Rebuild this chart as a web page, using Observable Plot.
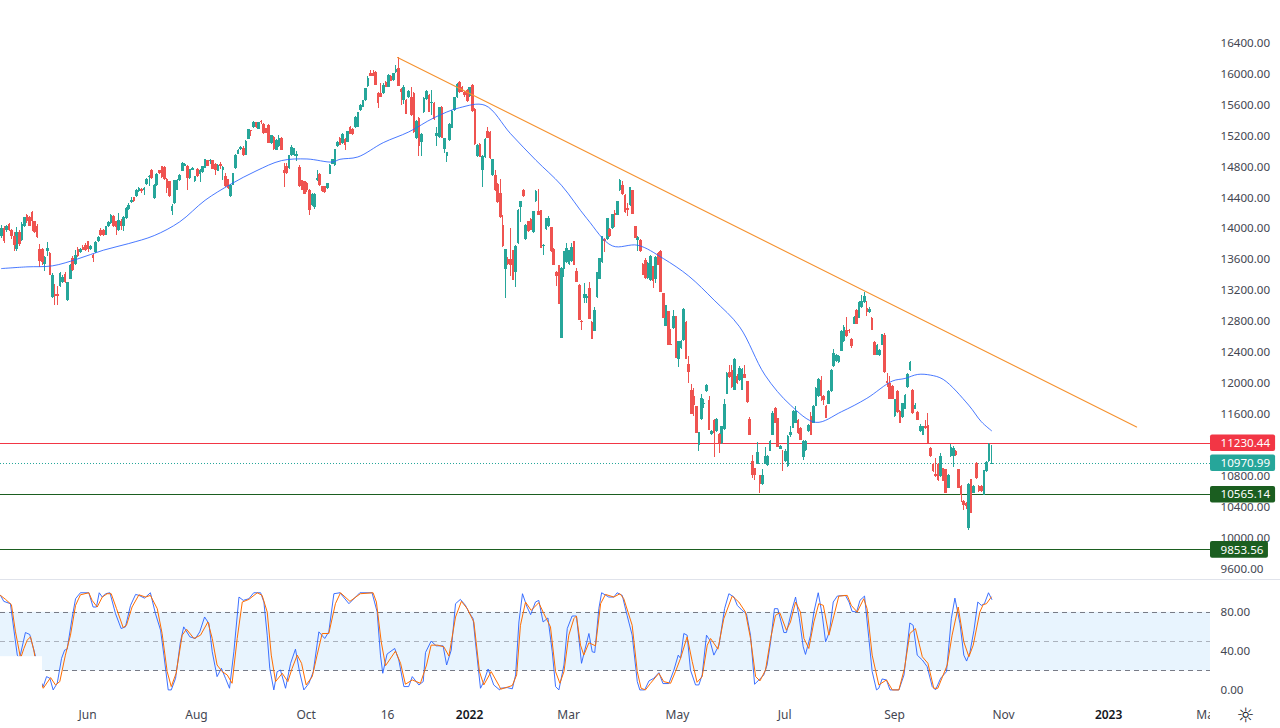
<!DOCTYPE html>
<html>
<head>
<meta charset="utf-8">
<script src="https://cdn.jsdelivr.net/npm/d3@7"></script>
<script src="https://cdn.jsdelivr.net/npm/@observablehq/plot@0.6"></script>
<style>
html,body{margin:0;padding:0;background:#fff;overflow:hidden}
svg{display:block}
</style>
</head>
<body>
<div id="chart"></div>
<script>
// ---- daily candles, one entry per trading bar ----
const opens = [13895,14003,13972,14054,13981,13895,13732,13955,13852,14033,14166,14140,14205,14088,14033,13736,13732,13542,13702,13680,
13108,13155,13155,13250,13302,13413,13070,13350,13615,13542,13736,13690,13757,13788,13830,13732,13658,13690,13830,13980,
13980,13917,14024,14067,14162,14088,13981,14097,14033,14132,14248,14338,14402,14411,14476,14510,14488,14574,14665,14755,
14390,14562,14746,14798,14789,14639,14604,14222,14325,14497,14626,14742,14806,14806,14648,14755,14604,14764,14703,14725,
14781,14875,14863,14875,14832,14742,14824,14755,14678,14635,14411,14562,14772,14961,15022,15035,14948,15159,15265,15305,
15366,15288,15382,15348,15290,15335,15099,15176,15013,15056,15163,14755,14798,14776,14945,14945,14936,14789,14617,14604,
14583,14497,14304,14270,14617,14699,14540,14540,14518,14703,14832,14820,15056,15163,15099,15155,15120,15305,15280,15305,
15314,15529,15572,15650,15839,16002,16002,16015,15753,15744,15744,15895,15830,15968,15916,16015,16066,15796,15658,15658,
15692,15701,15744,15164,15421,15108,15495,15667,15722,15620,15615,15194,15176,15572,15022,14927,15142,15301,15529,15692,
15895,15830,15765,15787,15710,15852,15542,14927,15090,14746,14918,15258,15245,14690,14690,14574,14454,14045,13474,13607,
13607,13715,13431,13809,14269,14497,13860,14088,14123,13951,14355,14226,14231,13766,13990,14024,14011,13732,13431,13521,
12584,13474,13560,13542,13572,13835,13452,13271,12807,13100,13100,13230,12790,12678,13112,13349,13560,13865,13860,13990,
14003,14196,14175,14488,14562,14432,14265,14295,14488,14024,13852,13852,13542,13585,13357,13336,13508,13345,13680,13700,
13164,12743,12927,12500,12712,12863,12317,12454,12562,12790,12252,11917,11840,11702,11199,11539,11730,11895,11788,11345,
11530,11380,11349,11229,11410,11865,12140,12175,11917,12098,12037,11917,12123,12024,11539,10992,10898,10962,10812,10692,
10958,10941,11130,11336,11680,11547,11156,11050,10992,10928,11324,11423,11487,11530,11423,11044,11143,11380,11573,11487,
11711,11831,12046,11840,11711,11736,11895,12218,12283,12278,12420,12540,12691,12691,12571,12768,12949,12842,12983,13048,
12971,12919,12842,12532,12368,12360,12497,12626,12022,12003,11960,11573,11904,11646,11560,11668,11947,12166,11917,11672,
11629,11388,11336,11444,11465,11164,10958,10829,10958,10799,10898,10885,10649,11057,11057,11130,10885,10670,10477,10455,
10133,10756,10584,10971,10670,10670,10562,10864,10992,10962];
const highs = [14045,14030,14045,14065,13990,13950,14010,13975,14075,14150,14190,14155,14220,14095,14050,13800,13750,13640,13826,13690,
13420,13285,13250,13440,13400,13430,13310,13540,13640,13715,13760,13750,13780,13810,13840,13780,13665,13835,13900,14000,
13990,14035,14090,14180,14175,14100,14196,14115,14155,14270,14320,14402,14410,14505,14535,14525,14535,14650,14690,14765,
14570,14710,14755,14800,14800,14650,14610,14316,14625,14640,14705,14850,14840,14815,14770,14785,14680,14780,14765,14800,
14895,14885,14900,14885,14840,14825,14850,14800,14712,14640,14570,14715,14960,15020,15060,15060,15140,15285,15272,15380,
15375,15375,15400,15355,15300,15345,15200,15185,15150,15206,15175,14841,14841,14950,15073,15035,15000,14820,14625,14615,
14595,14505,14450,14450,14755,14710,14550,14550,14590,14825,14900,15025,15130,15180,15230,15165,15255,15315,15290,15450,
15505,15600,15660,15815,15960,16045,16045,16030,15765,15873,15870,15905,15990,15980,16010,16110,16208,15810,15850,15670,
15790,15830,15760,15395,15435,15230,15690,15785,15730,15787,15625,15305,15570,15580,15170,14990,15355,15525,15695,15870,
15905,15840,15775,15795,15830,15860,15550,15085,15100,14940,15160,15305,15255,14900,14755,14590,14640,14175,13735,13625,
14003,13725,13780,14245,14355,14505,14060,14100,14135,14220,14490,14510,14240,13800,14135,14162,14020,13745,13445,13530,
13500,13705,13809,13725,13809,13840,13487,13280,12815,13290,13150,13300,12800,12980,13440,13620,13900,13880,14135,14000,
14190,14240,14350,14635,14605,14440,14325,14535,14495,14030,13900,13860,13555,13610,13565,13655,13515,13640,13690,13715,
13170,13015,12935,12704,12950,12870,12550,12560,12970,12800,12347,11995,11938,11710,11370,11861,11790,11994,11831,11400,
11540,11545,11360,11450,11797,12140,12240,12240,12320,12120,12227,12190,12240,12030,11569,11078,10905,11242,10820,10885,
11173,11070,11270,11640,11695,11555,11195,11143,11150,11330,11452,11650,11702,11540,11430,11260,11260,11470,11630,11715,
11945,12068,12089,11850,11720,11910,12180,12440,12380,12360,12680,12745,12854,12700,12580,12865,12960,13060,13134,13181,
13057,12980,12850,12540,12510,12440,12640,12650,12130,12089,11970,11800,11915,11655,11750,11865,12130,12280,11925,11740,
11640,11470,11450,11530,11616,11175,10965,11035,10975,11100,10905,10895,10825,11220,11190,11140,10895,10680,10490,10465,
10710,10765,10680,10980,10690,10680,10880,10990,11230,11200];
const lows = [13875,13815,13950,13970,13860,13702,13700,13770,13840,14015,14070,14025,13960,13945,13880,13495,13530,13444,13637,13390,
13100,13005,13010,13240,13290,13295,13065,13340,13445,13530,13625,13680,13715,13700,13690,13720,13560,13680,13820,13900,
13900,13910,14015,14060,14020,13908,13965,13981,13960,14125,14240,14330,14340,14400,14465,14460,14432,14565,14540,14640,
14380,14550,14700,14650,14620,14454,14405,14175,14310,14490,14615,14735,14800,14497,14640,14750,14595,14660,14592,14715,
14775,14800,14830,14760,14690,14735,14770,14617,14535,14510,14405,14555,14765,14955,15015,14935,14945,15150,15195,15295,
15290,15280,15345,15220,15225,15095,15090,15010,15005,15050,15005,14527,14700,14765,14935,14935,14863,14535,14490,14440,
14465,14175,14290,14250,14605,14550,14465,14450,14510,14695,14825,14810,15045,15070,15090,15013,15110,15215,15210,15295,
15305,15520,15560,15640,15830,15960,15965,15845,15550,15690,15735,15825,15820,15900,15905,16005,15840,15594,15600,15470,
15680,15455,15230,15150,14927,14927,15485,15655,15500,15465,15400,15065,15165,15160,14970,14862,15130,15290,15520,15680,
15750,15760,15700,15630,15700,15505,15080,14915,14915,14527,14905,15160,14900,14680,14480,14330,14135,13760,13100,13530,
13380,13335,13242,13800,14075,14405,13845,13950,13975,13940,14345,14170,13740,13660,13980,14015,13695,13525,13259,13020,
12580,13370,13550,13530,13560,13525,13300,12810,12680,13030,13035,12830,12570,12670,13100,13340,13550,13690,13850,13890,
13990,14020,14165,14480,14430,14200,14153,14285,14180,13870,13700,13695,13395,13350,13345,13325,13230,13290,13525,13172,
12835,12735,12495,12490,12700,12320,12205,12440,12550,12310,12003,11600,11582,11350,11122,11530,11680,11885,11395,11335,
11050,11370,11100,11220,11400,11855,12070,11940,11905,11985,12025,11905,12060,11750,11330,10780,10747,10950,10584,10680,
10950,10930,11120,11325,11480,11175,11145,10863,10980,10915,11310,11415,11480,11340,11265,11010,11130,11370,11330,11480,
11700,11820,11766,11715,11545,11725,11885,12210,12270,12265,12410,12530,12600,12650,12455,12760,12760,12835,12975,13040,
12870,12910,12685,12365,12360,12350,12490,12135,11950,11790,11795,11565,11620,11480,11550,11660,11940,12160,11600,11665,
11520,11370,11325,11410,11225,11050,10850,10790,10740,10790,10730,10585,10640,11050,10920,11060,10640,10468,10365,10370,
10110,10320,10575,10760,10600,10590,10555,10855,10985,10955];
const closes = [14003,13839,14033,13981,13895,13779,13955,13800,14058,14140,14088,14033,14088,13947,13882,13572,13560,13628,13745,13392,
13392,13121,13121,13422,13370,13302,13302,13530,13456,13658,13637,13736,13723,13723,13732,13766,13615,13822,13886,13908,
13908,14024,14076,14175,14024,14015,14110,14024,14144,14260,14304,14368,14347,14497,14518,14476,14523,14639,14672,14648,
14562,14703,14712,14656,14635,14518,14411,14282,14617,14626,14690,14841,14832,14648,14764,14776,14669,14669,14755,14798,
14893,14806,14875,14764,14755,14815,14806,14789,14540,14518,14562,14712,14950,15013,15047,14940,15133,15280,15255,15366,
15305,15366,15375,15228,15228,15099,15198,15022,15142,15163,15013,14712,14712,14948,15047,15035,14961,14540,14497,14445,
14497,14239,14445,14445,14648,14562,14476,14463,14583,14820,14893,15022,15120,15078,15215,15078,15250,15219,15219,15443,
15495,15594,15650,15808,15946,15968,15968,15852,15615,15692,15852,15830,15980,15907,16002,16058,15843,15765,15830,15477,
15774,15465,15237,15380,15065,15219,15680,15778,15507,15634,15409,15228,15563,15164,15164,14979,15344,15516,15692,15864,
15757,15765,15722,15637,15821,15520,15090,15077,14918,14936,15155,15164,14905,14893,14488,14334,14140,13766,13732,13542,
13530,13336,13775,14239,14347,14411,14045,13960,13981,14217,14484,14175,13745,13787,14130,14130,13702,13530,13379,13026,
13487,13702,13745,13723,13753,13530,13306,12820,12785,13145,13130,12833,12575,12949,13435,13615,13895,13830,14130,13895,
14187,14175,14347,14617,14441,14205,14240,14531,14183,13874,13886,13702,13400,13357,13551,13645,13315,13628,13530,13177,
12841,13005,12498,12495,12872,12325,12540,12549,12962,12317,12141,11607,11724,11358,11367,11810,11742,11981,11401,11388,
11358,11539,11229,11444,11736,12132,12080,11951,12317,12003,12196,12184,12068,11754,11336,10812,10820,11109,10700,10812,
11057,11057,11250,11616,11487,11177,11186,11040,11130,11315,11367,11646,11646,11358,11272,11250,11259,11457,11336,11711,
11938,12055,11831,11780,11552,11904,12175,12390,12368,12356,12670,12721,12605,12670,12485,12854,12764,13048,13057,13121,
12919,12962,12691,12368,12497,12433,12635,12140,12005,11801,11801,11797,11625,11487,11745,11852,12119,12270,11616,11723,
11530,11453,11444,11423,11229,11057,10863,10799,10743,11057,10735,10584,10820,11177,11164,11070,10649,10562,10420,10412,
10704,10326,10670,10769,10606,10606,10872,10980,11216,10970.99];

// ---- 50-day moving average, read at these bars ----
const maBars = [0,10,20,30,40,50,60,70,80,90,100,110,120,130,133,140,150,160,170,180,190,200,210,220,230,240,250,260,270,280,290,300,310,320,330,340,350,355,360,365,370,380,385,389];
const maVals = [13486,13508,13521,13611,13723,13809,13912,14089,14368,14574,14746,14880,14901,14862,14897,14927,15112,15250,15434,15563,15594,15228,14884,14562,14132,13779,13787,13616,13390,13078,12734,12110,11723,11500,11637,11810,12033,12067,12119,12110,12055,11723,11508,11392];

// ---- trend line ----
const trendBars = [155.6,446];
const trendVals = [16212,11441];

// ---- horizontal levels ----
const levelVals = [11230.44,10970.99,10565.14,9853.56];
const levelText = ["11230.44","10970.99","10565.14","9853.56"];
const levelColors = ["#f23645","#26a69a","#1b5e20","#1b5e20"];
const levelBoxEnd = [500.6,500.6,500.6,497.8];
const priceTicks = [16400,16000,15600,15200,14800,14400,14000,13600,13200,12800,12400,12000,11600,11200,10800,10400,10000,9600];

// ---- stochastic oscillator ----
const kBars = [-0.4,0.9,3.5,6.2,7.1,9.4,11.1,13.4,14.3,16.4,17.7,19,20.3,21.9,23.6,24.8,25.8,27.8,29.1,31,34.3,36,37.3,38.4,39.6,40.9,42.6,44.8,47,48.7,50.7,52.7,54,56.2,58.5,60.5,62.5,63.8,65.5,66.7,68.4,70.3,71.6,74,76.2,77.9,79.8,81.5,82.8,84.7,86.4,88,89.6,91.3,93.3,95,97.2,99.1,101.8,103.1,104.4,105.4,107,108.3,109.6,111.6,113.6,115.5,117.1,118.8,120.8,122.5,124.7,127,128.6,130.6,133,136.5,140.8,145.6,147.6,148.9,149.8,151.5,154.5,156.1,158.1,160,161.4,164,165.7,166.6,168.8,170.8,173.5,174.9,176.7,178.4,180.3,182.3,183.6,185.3,186.2,188.2,189.5,191.2,193.4,195.7,
196.1,198.7,200.7,202,203.3,204.7,206.5,207.9,209.8,211.1,212.8,214.7,216.4,217.7,219,221,222.3,224.2,225.9,227.9,230.8,232.1,233.1,234.7,235.8,238.6,240.6,241.9,243.9,245.8,247.8,249.8,250.8,252.7,254.4,256.3,258.3,259.9,262.2,264.2,265.9,266.8,268.1,269.4,270.7,272.7,274,275.3,277,278.3,279.9,281.9,284.1,285.8,287.8,289.1,291,292.7,294.3,295.9,297.6,299.5,300.8,302.2,303.7,305,307.4,308.4,310.7,312,313.5,315,315.9,317.9,319.2,320.9,322.5,323.8,325.3,326.8,328.4,331.6,333,334.2,336,337.3,339.1,340.8,342.1,343.8,344.7,346,347.7,349.1,352.6,354.6,356.9,358.2,359.8,361.8,363.7,365.7,367,369,371.3,373.2,374.6,376.6,378.1,379.2,380.5,382.1,383.6,385,386.2,387.8,389.1];
const kVals = [97.3,91.2,88.8,36.2,32.9,59.3,57.3,34.5,15.9,4,14.2,12.5,0.6,7.4,32.9,41.3,42.3,75.2,93.9,100,100,85.4,85.4,100,95.6,99,100,78.6,63.4,65.1,87.1,98.3,97.3,94.5,100,78.6,61.7,36.2,0.6,0.6,12.5,49.8,65.1,54.9,53.2,60,75.2,68.4,39.6,14.2,22.7,12.5,2.3,39.6,95.6,92.2,93.9,100,100,90.5,56.6,22.7,0.6,19.3,21,2.3,27.8,42.3,19.3,0.6,7.4,19.3,60,53.2,60,99,100,88.8,100,100,80.3,36.2,17.6,37.3,43,31.2,4,4,14.2,5.7,9.1,38.9,50.5,45.7,45.7,26.1,41.3,88.8,93.2,87.1,80.3,73.5,49.8,2.3,9.1,22,5.7,0.6,
2.3,3,1.7,15.9,70.1,99,85.4,77.6,90.5,92.2,70.1,74.2,39.6,4,0.6,26.1,63.4,76.2,76.2,27.8,58.3,39.6,38.9,83.7,100,95.6,95.6,100,97.3,76.9,56.6,9.1,0.6,0.6,9.8,12.5,18.3,7.1,7.1,21,36.2,32.9,58.3,56.6,21,5.7,5.7,15.9,56.6,51.5,36.2,46.4,83.7,99,95.6,87.1,82,78.6,56.6,6.4,10.8,15.9,26.1,49.8,83.7,83.7,59.3,59.3,83.7,95.6,73.5,44.7,36.9,56.6,80.3,100,76.9,49.8,60,90.5,96.6,97.3,90.5,81,80.3,92.2,96.6,53.2,19.3,0.6,2.3,11.8,10.8,0.6,0.6,15.9,69.1,66.7,36.2,31.2,24.4,4,0.6,12.5,19.3,73.5,94.5,68.4,36.2,30.1,38.9,61.7,90.5,87.1,88.8,100,93.2];
const dBars = [-0.4,1.6,3.9,5.5,7.5,8.8,10.1,11.4,12.7,14.3,16.4,19.3,21.2,22.9,25.1,27.1,29.1,31,34.3,35.6,37.6,39.6,41.5,43.1,45.2,47.8,49.1,51.3,54,56.6,58.5,61.2,63.1,65.1,66.7,68.6,71,72.7,75.6,78.2,81.1,82.8,84.7,86.7,88.7,90.6,92.6,94.6,97.2,100.5,102.4,104.4,106,107.7,110.3,112.5,114.2,116.2,117.9,119.7,122.1,124,126,128.6,131.2,133.2,136.9,141,146,147.3,149.2,150.9,154.8,156.8,158.7,161.4,164.6,167,168.8,171.4,173.8,175.8,178.4,180.7,183,185.6,187.8,189.5,192.4,195.7,
196.1,198.7,200.7,202.4,203.9,205.9,208.1,211.1,213.1,215.7,217.7,219.4,221,222.9,224.9,225.9,227.5,228.8,230.8,233.4,235.4,237.3,240.6,243,244.5,247.8,249.8,251.3,253,255,258.3,260.2,262.9,264.8,266.8,269.4,271.4,273.3,275.3,277.3,278.6,281.5,283.8,287.1,289.7,292.3,294.3,296.3,298,300.2,302.2,304.1,305.8,308.4,310,312,313.9,315.3,317.2,319.2,321.1,322.9,325.1,327.1,329,332.3,333.9,336.2,338.8,340.1,342.1,344.7,347.7,350,352.6,354.8,356.9,359.1,361.8,364,366.3,367.9,371.6,373.5,375.9,378.1,380.1,381.8,384.4,385.7,387,388.9];
const dVals = [97.3,93.2,87.8,60,32.9,43,51.5,54.9,41.3,15.9,2.3,13.2,5.7,9.1,36.2,56.6,87.1,97.9,100,92.2,85.4,95.6,99,99,83.7,64.4,66.7,85.4,97.9,95.6,97.3,83.7,58.3,19.3,4,17.6,56.6,62.7,53.2,56.6,70.1,53.2,26.1,19.3,15.9,7.4,53.2,90.5,93.2,100,97.3,80.3,36.2,9.1,17.6,9.1,22.7,36.2,27.8,5.7,14.2,36.2,58.3,58.3,88.8,100,91.2,99,100,90.5,49.8,25.4,40.3,27.8,6.4,10.8,7.4,26.1,46.4,46.4,44.7,35.2,75.2,91.2,83.7,70.1,19.3,5.7,19.3,4,
1.3,3.4,5.1,15.9,66.7,90.5,82,89.8,78.6,65.1,19.3,7.4,19.3,56.6,73.5,76.2,46.4,36.2,48.8,45.7,88.8,98.3,95.6,99,93.9,66.7,19.3,2.3,0.6,7.4,17.6,9.1,7.4,19.3,32.9,54.9,29.5,8.4,14.2,46.4,53.2,42.3,73.5,96.6,90.5,80.3,53.2,14.2,9.8,21,53.2,76.9,79.6,61.7,70.1,90.5,80.3,53.2,43,70.1,88.8,87.1,56.6,76.9,96.6,97.3,87.1,80.3,93.9,83.7,36.2,5.7,10.8,0.6,0.6,22.7,58.3,63.4,34.5,27.8,2.3,2.3,26.1,56.6,85.4,49.8,34.5,46.4,80.3,87.8,88.8,95.6];
const oscTicks = [80,40,0];
const oscLevels = [80,50,20];

// ---- time axis ----
const timeLabels = ["Jun","Aug","Oct","16","Mar","May","Jul","Sep","Nov","Mar"];
const timeBars = [33.8,76.6,119.7,151.7,222.8,265.6,307.7,350.9,393.7,473.9];
const yearLabels = ["2022","2023"];
const yearBars = [183.9,435];

const xDomain = [-0.393, 475.03];
const fontFamily = "'Noto Sans', sans-serif";
const axisInk = "#434651";

const bars = opens.map((o,i)=>({i,o,h:highs[i],l:lows[i],c:closes[i]}));
const up = bars.filter(d=>d.c>=d.o), down = bars.filter(d=>d.c<d.o);
const zip = (xs,ys)=>xs.map((x,i)=>({x,y:ys[i]}));
const levels = levelVals.map((v,i)=>({v,t:levelText[i],color:levelColors[i],end:levelBoxEnd[i]}));
const LABEL_HALF = 107;   // half label box height, in price units

const candle = (data,color)=>[
  Plot.ruleX(data,{x:"i",y1:"l",y2:"h",stroke:color,strokeWidth:1,shapeRendering:"crispEdges"}),
  Plot.ruleX(data,{x:"i",y1:"o",y2:"c",stroke:color,strokeWidth:2.6,shapeRendering:"crispEdges"})
];

const pricePane = Plot.plot({
  width:1280,height:579,
  marginLeft:0,marginRight:70,marginTop:0,marginBottom:0,
  style:{fontFamily,fontSize:"11.6px",background:"#fff",overflow:"visible",display:"block"},
  x:{domain:xDomain,axis:null},
  y:{domain:[9600,16400],range:[569,42.4],axis:null},
  marks:[
    Plot.ruleY(levels.filter(d=>d.v!==10970.99),{y:"v",stroke:"color",strokeWidth:1,shapeRendering:"crispEdges"}),
    Plot.ruleY(levels.filter(d=>d.v===10970.99),{y:"v",stroke:"color",strokeWidth:1,strokeDasharray:"1,2",shapeRendering:"crispEdges"}),
    ...candle(up,"#26a69a"),
    ...candle(down,"#ef5350"),
    Plot.line(zip(maBars,maVals),{x:"x",y:"y",stroke:"#2962ff",strokeWidth:1,strokeOpacity:0.85,curve:"catmull-rom"}),
    Plot.line(zip(trendBars,trendVals),{x:"x",y:"y",stroke:"#f5922f",strokeWidth:1.1}),
    Plot.axisY({anchor:"right",ticks:priceTicks,tickSize:0,tickPadding:10,textAnchor:"start",tickFormat:d=>d.toFixed(2),fill:axisInk,label:null}),
    Plot.rect(levels,{x1:xDomain[1],x2:"end",y1:d=>d.v-LABEL_HALF,y2:d=>d.v+LABEL_HALF,fill:"color",rx:2}),
    Plot.text(levels,{x:xDomain[1]+3.93,y:"v",text:"t",fill:"#fff",textAnchor:"start"})
  ]
});

const oscMask = [{x1:xDomain[0],x2:16.1,y1:-8,y2:34.6}];
const oscPane = Plot.plot({
  width:1280,height:148,
  marginLeft:0,marginRight:70,marginTop:0,marginBottom:0,
  style:{fontFamily,fontSize:"11.6px",background:"#fff",overflow:"visible",display:"block"},
  x:{domain:xDomain,axis:null},
  y:{domain:[0,100],range:[110,12.25],axis:null},
  marks:[
    Plot.rect([{y1:oscLevels[2],y2:oscLevels[0]}],{x1:xDomain[0],x2:xDomain[1],y1:"y1",y2:"y2",fill:"#2196f3",fillOpacity:0.1}),
    Plot.ruleY([oscLevels[0],oscLevels[2]],{stroke:"#787b86",strokeWidth:1,strokeDasharray:"5,4",shapeRendering:"crispEdges"}),
    Plot.ruleY([oscLevels[1]],{stroke:"#787b86",strokeOpacity:0.55,strokeWidth:1,strokeDasharray:"5,4",shapeRendering:"crispEdges"}),
    Plot.line(zip(kBars,kVals),{x:"x",y:"y",stroke:"#2962ff",strokeWidth:1,strokeOpacity:0.9}),
    Plot.line(zip(dBars,dVals),{x:"x",y:"y",stroke:"#ff6d00",strokeWidth:1}),
    Plot.rect(oscMask,{x1:"x1",x2:"x2",y1:"y1",y2:"y2",fill:"#fff"}),
    Plot.axisY({anchor:"right",ticks:oscTicks,tickSize:0,tickPadding:10,textAnchor:"start",tickFormat:d=>d.toFixed(2),fill:axisInk,label:null}),
    Plot.text(zip(timeBars,timeLabels),{x:"x",text:"y",frameAnchor:"bottom",lineAnchor:"middle",dy:-13,fill:axisInk,fontSize:12,clip:true}),
    Plot.text(zip(yearBars,yearLabels),{x:"x",text:"y",frameAnchor:"bottom",lineAnchor:"middle",dy:-13,fill:"#131722",fontSize:12,fontWeight:600,clip:true}),
    Plot.text(["\u263C"],{x:()=>488.8,frameAnchor:"bottom",lineAnchor:"middle",dy:-13,fill:"#131722",fontSize:20,fontFamily:"'DejaVu Sans'"})
  ]
});
const sep = document.createElement("div");
sep.style.cssText = "height:1px;width:1280px;background:#e0e3eb";
document.getElementById("chart").append(pricePane, sep, oscPane);
</script>
</body>
</html>
